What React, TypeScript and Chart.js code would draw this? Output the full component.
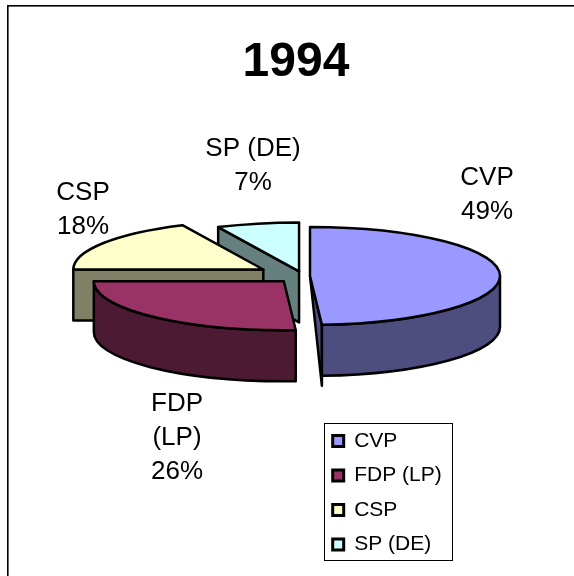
import React, { useEffect, useRef } from "react";
import { Chart, registerables } from "chart.js";

Chart.register(...registerables);

const titleText = "1994";
const categories = ["CVP", "FDP (LP)", "CSP", "SP (DE)"];
const shares = [49, 26, 18, 7];
const explode = [7, 28, 47, 18];
const topColours = ["#9999FF", "#993366", "#FFFFCC", "#CCFFFF"];
const sideColours = ["#4D4D80", "#4D1A33", "#808066", "#668080"];
const labelLines = [["CVP", "49%"], ["FDP", "(LP)", "26%"], ["CSP", "18%"], ["SP (DE)", "7%"]];
const labelSpots = [[487, 178], [177, 404], [83, 193], [253, 149]];

const SQUASH = 0.258;
const DEPTH = 51;
const RADIUS = 190;
const paintOrder = [3, 2, 0, 1];

const pie3d = {
  id: "pie3d",
  afterLayout(chart: any) {
    const t = chart.titleBlock;
    if (t) { t.left = 0; t.right = 592; t.top = 39; t.bottom = 87; }
    const l = chart.legend;
    if (l) { l.left = 319.2; l.right = 452; l.top = 417; l.bottom = 576; l.width = 132.8; l.height = 159; }
    const area = chart.chartArea;
    area.left = 103; area.right = 503; area.top = 76; area.bottom = 476;
    area.width = 400; area.height = 400;
  },
  beforeDraw(chart: any) {
    const c = chart.ctx;
    c.save();
    c.fillStyle = "#000";
    c.fillRect(7, 5, 567, 1.6);
    c.fillRect(7, 5, 1.6, 571);
    c.strokeStyle = "#000";
    c.lineWidth = 1;
    c.strokeRect(324.5, 423.5, 128, 137);
    c.restore();
  },
  beforeDatasetsDraw(chart: any) {
    const c = chart.ctx;
    const arcs = chart.getDatasetMeta(0).data;
    c.save();
    c.strokeStyle = "#000";
    c.lineWidth = 2.5;
    c.lineJoin = "round";
    for (const i of paintOrder) {
      const a = arcs[i];
      const p = a.getProps(["x", "y", "startAngle", "endAngle", "outerRadius"], true);
      const mid = (p.startAngle + p.endAngle) / 2;
      const d = a.options.offset / 4;
      const cx = p.x + Math.cos(mid) * d;
      const cy = p.y + Math.sin(mid) * d * SQUASH;
      const r = p.outerRadius;
      const ry = r * SQUASH;
      const at = (ang: number) => [cx + r * Math.cos(ang), cy + ry * Math.sin(ang)];

      const face = (ang: number, normalY: number) => {
        if (normalY <= 0.001) return;
        const [ex, ey] = at(ang);
        c.beginPath();
        c.moveTo(cx, cy);
        c.lineTo(ex, ey);
        if (normalY < 0.2) {
          c.lineTo(ex, ey + DEPTH + 10);
        } else {
          c.lineTo(ex, ey + DEPTH);
          c.lineTo(cx, cy + DEPTH);
        }
        c.closePath();
        c.fillStyle = sideColours[i];
        c.fill();
        c.stroke();
      };
      face(p.startAngle, -Math.cos(p.startAngle));
      face(p.endAngle, Math.cos(p.endAngle));

      const from = Math.max(p.startAngle, 0);
      const to = Math.min(p.endAngle, Math.PI);
      if (to > from) {
        c.beginPath();
        c.ellipse(cx, cy, r, ry, 0, from, to, false);
        c.ellipse(cx, cy + DEPTH, r, ry, 0, to, from, true);
        c.closePath();
        c.fillStyle = sideColours[i];
        c.fill();
        c.stroke();
      }

      c.beginPath();
      c.moveTo(cx, cy);
      c.ellipse(cx, cy, r, ry, 0, p.startAngle, p.endAngle, false);
      c.closePath();
      c.fillStyle = a.options.backgroundColor;
      c.fill();
      c.stroke();
    }
    c.restore();
    return false;
  },
  afterDraw(chart: any) {
    const c = chart.ctx;
    c.save();
    c.fillStyle = "#000";
    c.font = '26px "Liberation Sans", Arial, sans-serif';
    c.textAlign = "center";
    c.textBaseline = "middle";
    labelLines.forEach((lines, i) => {
      lines.forEach((line, j) => {
        c.fillText(line, labelSpots[i][0], labelSpots[i][1] + j * 34);
      });
    });
    c.restore();
  },
};

export default function App() {
  const ref = useRef<HTMLCanvasElement>(null);
  useEffect(() => {
    const chart = new Chart(ref.current as HTMLCanvasElement, {
      type: "pie",
      data: {
        labels: categories,
        datasets: [{
          data: shares,
          backgroundColor: topColours,
          borderColor: "#000",
          borderWidth: 3,
          offset: explode.map((d) => d * 4),
        }],
      },
      options: {
        responsive: false,
        animation: false,
        radius: RADIUS,
        plugins: {
          tooltip: { enabled: false },
          title: {
            display: true,
            text: titleText,
            color: "#000",
            padding: 0,
            font: { family: '"Liberation Sans", Arial, sans-serif', size: 48, weight: "bold", lineHeight: 1 },
          },
          legend: {
            display: true,
            position: "right",
            align: "start",
            labels: {
              color: "#000",
              boxWidth: 11,
              boxHeight: 11,
              padding: 13.5,
              font: { family: '"Liberation Sans", Arial, sans-serif', size: 21 },
            },
          },
        },
      } as any,
      plugins: [pie3d as any],
    });
    return () => chart.destroy();
  }, []);
  return (
    <div style={{ position: "fixed", left: 0, top: 0, background: "#fff" }}>
      <canvas ref={ref} width={574} height={576} style={{ display: "block" }} />
    </div>
  );
}
